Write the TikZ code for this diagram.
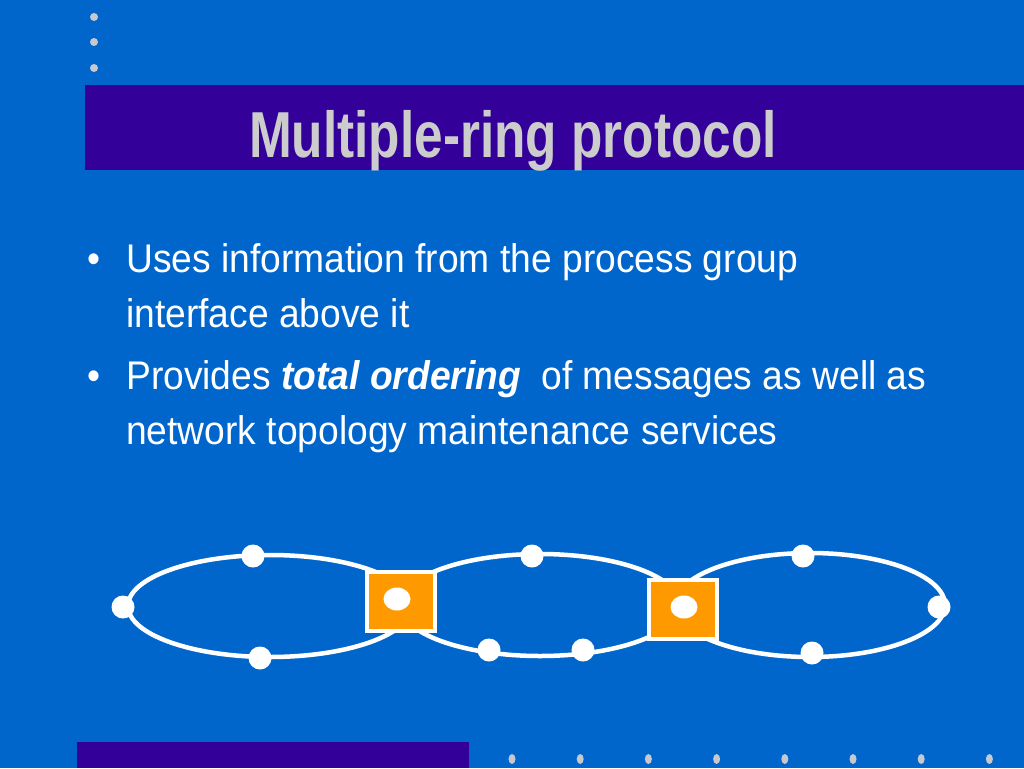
\documentclass[tikz,border=0pt]{standalone}
\usepackage{fontspec}
\setmainfont{Liberation Sans}
\newfontfamily\titlefont[FakeStretch=0.79]{Liberation Sans}
\newfontfamily\bodyfont[FakeStretch=0.93]{Liberation Sans}
\usetikzlibrary{shapes.geometric}
\definecolor{bgblue}{HTML}{0066CC}
\definecolor{barpurple}{HTML}{330099}
\definecolor{titlegray}{HTML}{CCCCCC}
\definecolor{dotgray}{HTML}{C8C8D0}
\definecolor{sqorange}{HTML}{FF9900}
\tikzset{
  ring/.style={draw=white, line width=4.5pt},
  sqbox/.style={rectangle, fill=sqorange, draw=white, line width=4pt, minimum width=68pt, minimum height=59pt, inner sep=0pt},
  rdot/.style={circle, fill=white, inner sep=0pt, minimum size=23pt},
  idot/.style={ellipse, fill=white, inner sep=0pt, minimum width=27pt, minimum height=23pt},
  bodytext/.style={text=white, inner sep=0pt, anchor=base west, font=\bodyfont\fontsize{40}{48}\selectfont},
  titletext/.style={text=titlegray, inner sep=0pt, anchor=base, font=\titlefont\bfseries\fontsize{65}{78}\selectfont},
}
\begin{document}
\begin{tikzpicture}[x=1pt,y=-1pt]
\fill[bgblue] (0,0) rectangle (1024,768);
\useasboundingbox (0,0) rectangle (1024,768);
% top-left dots
\foreach \yy in {17,42,68} \fill[dotgray] (94,\yy) circle (4);
% title bar
\fill[barpurple] (85,85) rectangle (1024,170);
\node[titletext] (title) at (513,157) {Multiple-ring protocol};
% bottom bar and dots
\fill[barpurple] (77,742) rectangle (469,768);
\foreach \k in {0,...,7} \fill[dotgray] (512+68.2*\k,759) ellipse [x radius=3.5, y radius=5];
% bullets
\node[bodytext] (b1) at (87,272) {•};
\node[bodytext] (l1) at (126,272) {Uses information from the process group};
\node[bodytext] (l2) at (126,327) {interface above it};
\node[bodytext] (b2) at (87,389) {•};
\node[bodytext] (l3) at (126,389) {Provides \textbf{\textit{total ordering}}\ \ of messages as well as};
\node[bodytext] (l4) at (126,444) {network topology maintenance services};
% rings
\draw[ring] (270,606) ellipse [x radius=142, y radius=51];
\draw[ring] (540,605) ellipse [x radius=140, y radius=51];
\draw[ring] (810,605) ellipse [x radius=135, y radius=52];
% gateway squares
\node[sqbox] (s1) at (401,601) {};
\node[sqbox] (s2) at (683,609) {};
\node[idot] (g1) at (397,599) {};
\node[idot] (g2) at (684,607) {};
% processor dots
\node[rdot] (d1) at (253,556) {};
\node[rdot] (d2) at (123,607) {};
\node[rdot] (d3) at (260,658) {};
\node[rdot] (d4) at (532,556) {};
\node[rdot] (d5) at (489,650) {};
\node[rdot] (d6) at (583,650) {};
\node[rdot] (d7) at (803,556) {};
\node[rdot] (d8) at (812,653) {};
\node[rdot] (d9) at (939,607) {};
\end{tikzpicture}
\end{document}
